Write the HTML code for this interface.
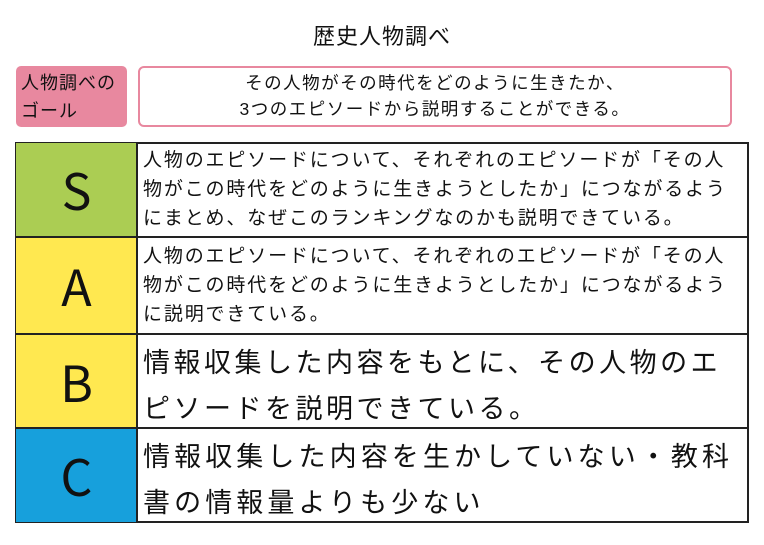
<!DOCTYPE html>
<html><head><meta charset="utf-8"><style>
body{margin:0;width:764px;height:545px;background:#fff;position:relative;overflow:hidden;font-family:"Liberation Sans","Noto Sans CJK JP",sans-serif;color:#111}
.a{position:absolute;white-space:nowrap}
.cell{position:absolute;box-sizing:border-box}
.L{font-family:"Noto Sans CJK JP",sans-serif}
</style></head><body>
<div class="a" style="left:0;width:764px;top:19px;text-align:center;font-size:22px;letter-spacing:1px">歴史人物調べ</div>
<div class="cell" style="left:16px;top:66px;width:111px;height:61px;background:#e8889f;border-radius:5px"></div>
<div class="a" style="left:21px;top:69px;font-size:18px;line-height:28px;letter-spacing:1px">人物調べの<br>ゴール</div>
<div class="cell" style="left:138px;top:66px;width:594px;height:61px;border:2.5px solid #e8889f;border-radius:6px"></div>
<div class="a" style="left:138px;width:594px;top:70px;text-align:center;font-size:17.5px;line-height:26px;letter-spacing:1.5px">その人物がその時代をどのように生きたか、<br>3つのエピソードから説明することができる。</div>

<div class="cell" style="left:15px;top:142px;width:734px;height:381px;border:2px solid #222"></div>
<div class="cell" style="left:16px;top:143px;width:121px;height:94px;background:#abcd53"></div>
<div class="cell" style="left:16px;top:238px;width:121px;height:96px;background:#ffe850"></div>
<div class="cell" style="left:16px;top:335px;width:121px;height:93px;background:#ffe850"></div>
<div class="cell" style="left:16px;top:429px;width:121px;height:93px;background:#17a0dc"></div>
<div class="cell" style="left:136px;top:142px;width:2px;height:381px;background:#222"></div>
<div class="cell" style="left:15px;top:236px;width:734px;height:2px;background:#222"></div>
<div class="cell" style="left:15px;top:333px;width:734px;height:2px;background:#222"></div>
<div class="cell" style="left:15px;top:427px;width:734px;height:2px;background:#222"></div>

<div class="a L" style="left:16px;width:121px;top:157px;text-align:center;font-size:50px;line-height:64px">S</div>
<div class="a L" style="left:16px;width:121px;top:253px;text-align:center;font-size:50px;line-height:64px">A</div>
<div class="a L" style="left:16px;width:121px;top:349px;text-align:center;font-size:50px;line-height:64px">B</div>
<div class="a L" style="left:16px;width:121px;top:443px;text-align:center;font-size:50px;line-height:64px">C</div>

<div class="a" style="left:143px;top:146px;font-size:19px;line-height:29px;letter-spacing:1.85px">人物のエピソードについて、それぞれのエピソードが「その人<br>物がこの時代をどのように生きようとしたか」につながるよう<br>にまとめ、なぜこのランキングなのかも説明できている。</div>
<div class="a" style="left:143px;top:242px;font-size:19px;line-height:29px;letter-spacing:1.85px">人物のエピソードについて、それぞれのエピソードが「その人<br>物がこの時代をどのように生きようとしたか」につながるよう<br>に説明できている。</div>
<div class="a" style="left:143px;top:340px;font-size:27px;line-height:46px;letter-spacing:3.5px">情報収集した内容をもとに、その人物のエ<br>ピソードを説明できている。</div>
<div class="a" style="left:143px;top:434px;font-size:27px;line-height:46px;letter-spacing:4.1px">情報収集した内容を生かしていない・教科<br>書の情報量よりも少ない</div>
</body></html>
